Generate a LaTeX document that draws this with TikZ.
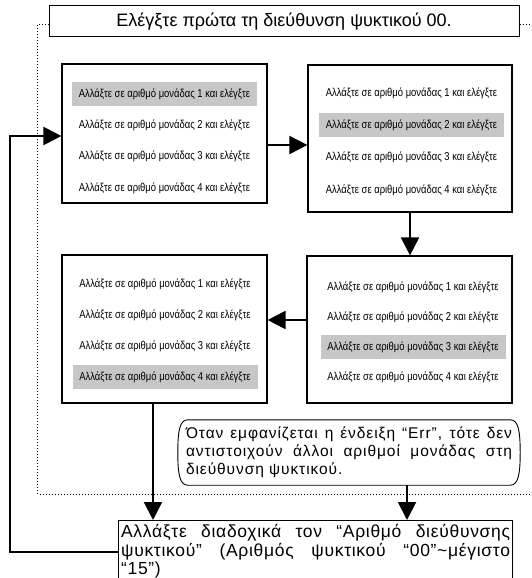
\documentclass[tikz,border=0pt]{standalone}
\usepackage{fontspec}
\setmainfont{Liberation Sans}
\newfontfamily\notefont[LetterSpace=6]{Liberation Sans}
\newfontfamily\chgfont[LetterSpace=4]{Liberation Sans}
\usetikzlibrary{arrows.meta}

\tikzset{
  box/.style={draw, line width=1.2pt, minimum width=205pt},
  rowtxt/.style={inner sep=0pt, minimum width=185pt, minimum height=24pt,
    font=\fontsize{11.5}{13}\selectfont},
  arr/.style={line width=2pt, -{Triangle[length=18pt,width=18pt]}},
  dotline/.style={line width=0.8pt, dash pattern=on 1pt off 2pt},
}
\newcommand{\rowtext}[1]{\scalebox{0.82}[1]{Αλλάξτε σε αριθμό μονάδας #1 και ελέγξτε}}

\begin{document}
\begin{tikzpicture}[x=1pt, y=-1pt]
\useasboundingbox (0,0) rectangle (531,578);

% Top instruction
\node[draw, line width=1pt, minimum width=470pt, minimum height=31pt,
  font=\fontsize{18}{20}\selectfont] (top) at (284,21.5)
  {Ελέγξτε πρώτα τη διεύθυνση ψυκτικού 00.};

% Dotted frame
\coordinate (dotend) at (531,494);
\draw[dotline] ([yshift=-2.5pt]top.west) -- ++(-11,0) |- (dotend);
\draw[dotline] ([yshift=-2.5pt]top.east) -- ++(12,0);

% Unit boxes
\node[box, minimum height=139pt] (b1) at (164.5,133.5) {};
\node[box, minimum width=204pt, minimum height=147pt] (b2) at (410,138.5) {};
\node[box, minimum height=147pt] (b3) at (409.5,329.5) {};
\node[box, minimum height=148pt] (b4) at (164.5,329) {};

% Rows, one highlighted per box
\foreach \bx/\x/\y/\s in {1/164.5/94/31.3, 2/411.5/93/32.3, 3/413/287/30, 4/165/284/31}
  \foreach \i in {1,...,4} {
    \ifnum\i=\bx \def\rowfill{black!22}\else\def\rowfill{none}\fi
    \node[rowtxt, fill=\rowfill] (b\bx r\i) at (\x,{\y+\s*(\i-1)}) {\rowtext{\i}};
  }

% Err note
\node[text width=326pt, align=justify, inner sep=0pt, minimum width=342pt,
  minimum height=65pt, font=\notefont\fontsize{15.5}{18}\selectfont] (note) at (349,452.5)
  {Όταν εμφανίζεται η ένδειξη “Err”, τότε δεν\linebreak
   αντιστοιχούν άλλοι αριθμοί μονάδας στη\linebreak
   διεύθυνση ψυκτικού.};
\draw[line width=0.9pt]
  ([xshift=10pt]note.north west) -- ([xshift=-10pt]note.north east)
  .. controls +(8,0) and +(0,-22) .. (note.east)
  .. controls +(0,22) and +(8,0) .. ([xshift=-10pt]note.south east)
  -- ([xshift=10pt]note.south west)
  .. controls +(-8,0) and +(0,22) .. (note.west)
  .. controls +(0,-22) and +(-8,0) .. ([xshift=10pt]note.north west) -- cycle;

% Change address box
\node[draw, line width=1.2pt, anchor=north west, text width=389pt, align=justify,
  inner xsep=2.5pt, inner ysep=4pt, font=\chgfont\fontsize{17.5}{18.5}\selectfont] (chg) at (118,520)
  {Αλλάξτε διαδοχικά τον “Αριθμό διεύθυνσης\linebreak
   ψυκτικού” (Αριθμός ψυκτικού “00”\textasciitilde μέγιστο\linebreak
   “15”)};

% Arrows
\draw[arr] ([yshift=-11.5pt]b1.east) -- ([yshift=-11.5pt]b1.east -| b2.west);
\draw[arr] (b2.south) -- (b2.south |- b3.north);
\draw[arr] ([yshift=9.5pt]b3.west) -- ([yshift=9.5pt]b3.west -| b4.east);
\coordinate (d4) at ([xshift=-11.5pt]b4.south);
\draw[arr] (d4) -- (d4 |- chg.north);
\coordinate (dn) at ([xshift=58pt]note.south);
\draw[arr] (dn) -- (dn |- chg.north);

% Loop back
\draw[arr] (chg.west) -- ++(-108,0) |- ([yshift=-2.5pt]b1.west);

\end{tikzpicture}
\end{document}
